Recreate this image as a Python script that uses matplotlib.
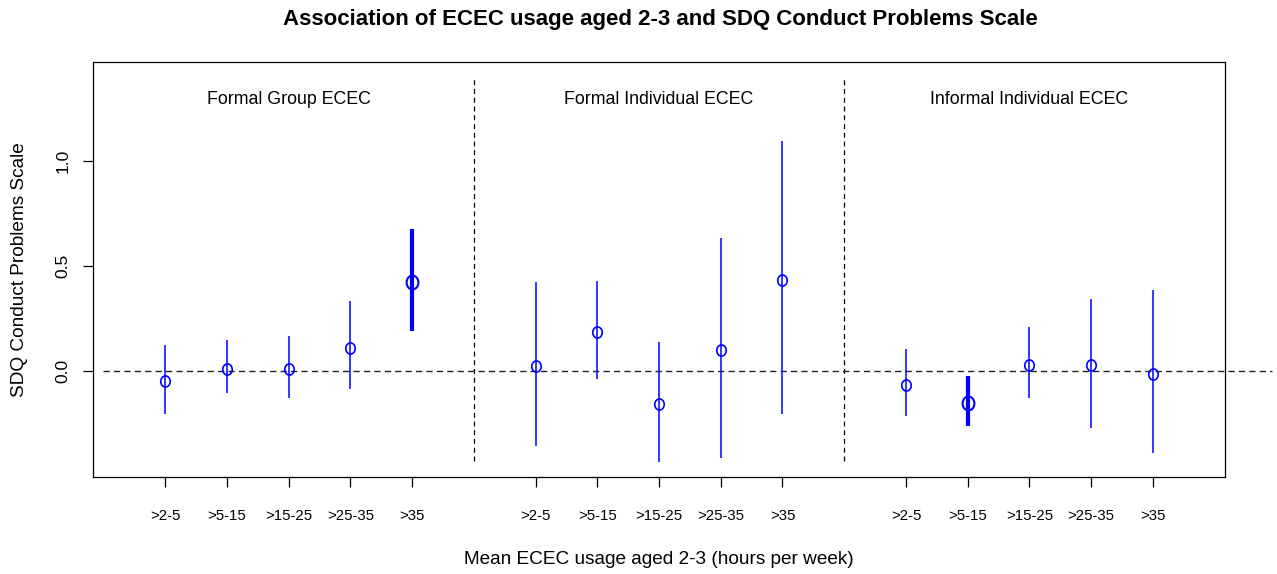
import numpy as np
import matplotlib
matplotlib.use("Agg")
import matplotlib.pyplot as plt
from matplotlib.path import Path

plt.rcParams['font.family'] = ['Liberation Sans', 'DejaVu Sans']

# ---- data ----
groups = ["Formal Group ECEC", "Formal Individual ECEC", "Informal Individual ECEC"]
categories = [">2-5", ">5-15", ">15-25", ">25-35", ">35"]

est_formal_group = [-0.046, 0.011, 0.011, 0.112, 0.426]
low_formal_group = [-0.201, -0.105, -0.128, -0.083, 0.191]
high_formal_group = [0.123, 0.147, 0.169, 0.334, 0.677]

est_formal_indiv = [0.027, 0.187, -0.155, 0.101, 0.435]
low_formal_indiv = [-0.353, -0.037, -0.429, -0.412, -0.201]
high_formal_indiv = [0.423, 0.429, 0.141, 0.634, 1.094]

est_informal_indiv = [-0.063, -0.150, 0.028, 0.028, -0.014]
low_informal_indiv = [-0.212, -0.260, -0.127, -0.268, -0.389]
high_informal_indiv = [0.106, -0.021, 0.209, 0.345, 0.385]

yticks = [0.0, 0.5, 1.0]

# ---- figure ----
fig = plt.figure(figsize=(12.77, 5.74), dpi=100)
ax = fig.add_axes([93 / 1277, 97 / 574, 1132 / 1277, 415 / 574])

# slightly tall ellipse marker (like R's glyph circles)
t = np.linspace(0, 2 * np.pi, 60)
verts = np.column_stack([0.85 * np.cos(t), np.sin(t)])
oval = Path(verts, closed=True)

ests = [est_formal_group, est_formal_indiv, est_informal_indiv]
lows = [low_formal_group, low_formal_indiv, low_informal_indiv]
highs = [high_formal_group, high_formal_indiv, high_informal_indiv]

n = len(categories)
all_x, all_labels = [], []
for g in range(len(groups)):
    xs = np.arange(n) + 1 + g * (n + 1)
    for i, x in enumerate(xs):
        lo, hi, e = lows[g][i], highs[g][i], ests[g][i]
        sig = lo > 0 or hi < 0
        ax.plot([x, x], [lo, hi], color='blue', lw=3.0 if sig else 1.1,
                solid_capstyle='butt', zorder=3)
        ax.plot([x], [e], marker=oval, markersize=10 if sig else 8,
                mfc='none', mec='blue', mew=1.5 if sig else 1.2,
                linestyle='none', zorder=4)
    all_x.extend(xs)
    all_labels.extend(categories)
    ax.text(xs.mean(), 1.293, groups[g], ha='center', va='center', fontsize=12.8)
    if g > 0:
        ax.plot([xs[0] - 1, xs[0] - 1], [-0.427, 1.393], color='black', lw=0.9,
                dashes=(4, 3), zorder=2)

ax.plot([0, 18.92], [0, 0], color='#222222', lw=1.0, dashes=(4.5, 3),
        clip_on=False, zorder=2)

ax.set_xlim(-0.166, 18.166)
ax.set_ylim(-0.502, 1.469)

ax.set_yticks(yticks)
ax.set_yticklabels([f"{v:.1f}" for v in yticks], rotation=90, va='center',
                   fontsize=12.5)
ax.set_xticks(all_x)
ax.set_xticklabels(all_labels, fontsize=10.8)
ax.tick_params(axis='x', length=7.2, width=0.9, pad=15.5)
ax.tick_params(axis='y', length=7.2, width=0.9, pad=9)
for s in ax.spines.values():
    s.set_linewidth(0.9)

ax.set_ylabel("SDQ Conduct Problems Scale", fontsize=13.7, labelpad=20)
ax.set_xlabel("Mean ECEC usage aged 2-3 (hours per week)", fontsize=13.7,
              labelpad=20.5)
fig.suptitle("Association of ECEC usage aged 2-3 and SDQ Conduct Problems Scale",
             fontsize=16, fontweight='bold', x=660 / 1277, y=1 - 19 / 574,
             va='center')

fig.savefig("out.png", dpi=100)
